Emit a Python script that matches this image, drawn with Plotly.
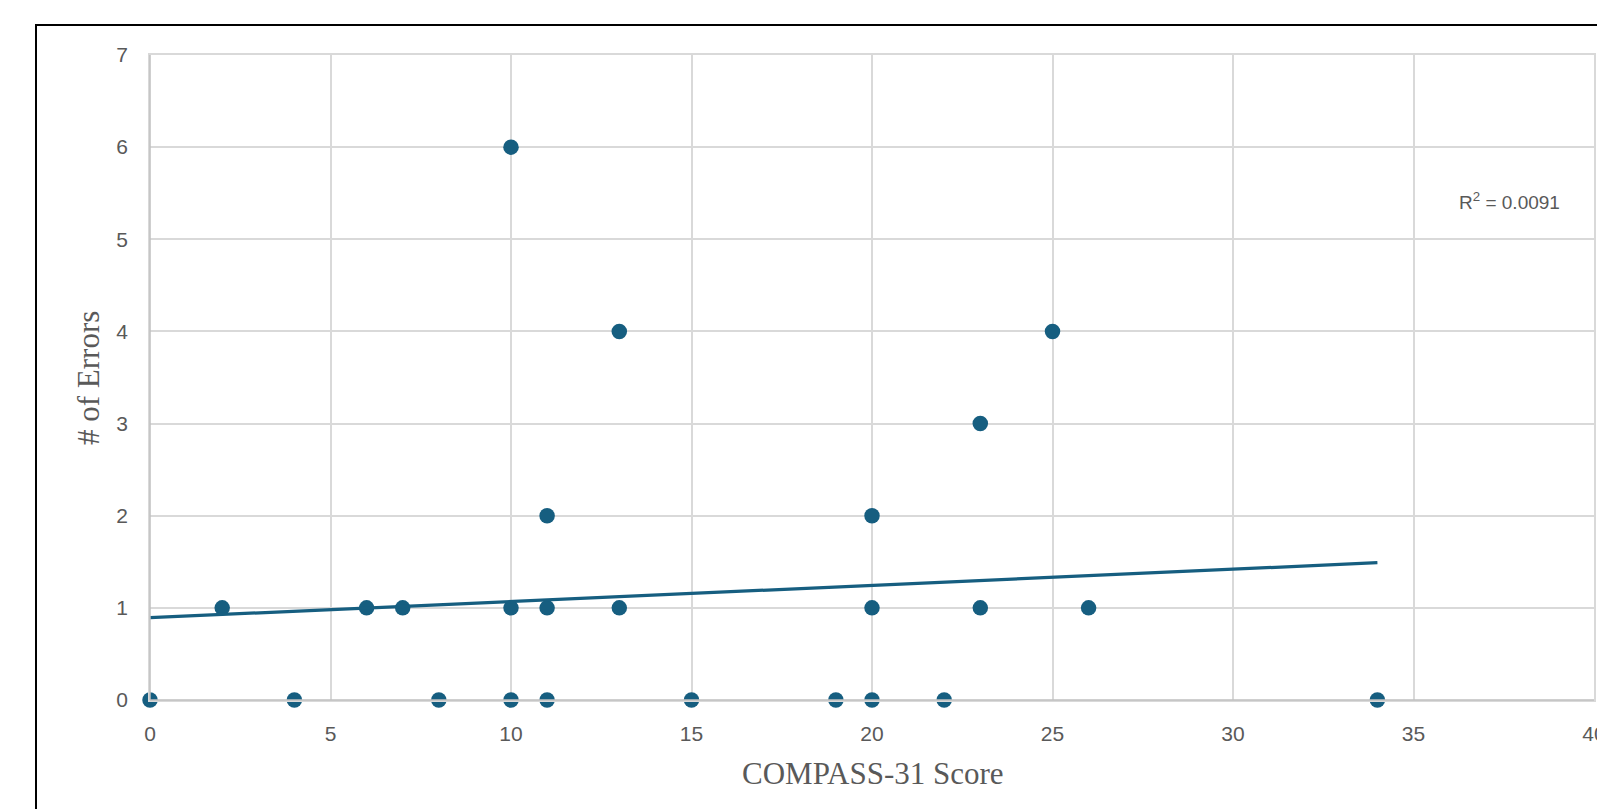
import plotly.graph_objects as go

# Data
compass_scores = [0, 2, 4, 6, 7, 8, 10, 10, 10, 11, 11, 11, 13, 13, 15, 19, 20, 20, 20, 22, 23, 23, 25, 26, 34]
num_errors = [0, 1, 0, 1, 1, 0, 6, 1, 0, 2, 1, 0, 4, 1, 0, 0, 2, 1, 0, 0, 3, 1, 4, 1, 0]
trend_x = [0, 34]
trend_y = [0.893, 1.49]
r2_label = "R<sup>2</sup> = 0.0091"
x_ticks = [0, 5, 10, 15, 20, 25, 30, 35, 40]
y_ticks = [0, 1, 2, 3, 4, 5, 6, 7]

OFF = 8  # default body margin of the page
W, H = 1605 - OFF, 809 - OFF
L, R, T, B = 150 - OFF, 1594 - OFF, 55 - OFF, 700 - OFF
blue = "#165e80"
gray_text = "#595959"
grid = "#d9d9d9"

fig = go.Figure()
fig.add_trace(go.Scatter(x=compass_scores, y=num_errors, mode="markers",
                         marker=dict(size=15.5, color=blue), showlegend=False, cliponaxis=False))
fig.add_trace(go.Scatter(x=trend_x, y=trend_y, mode="lines",
                         line=dict(color=blue, width=3.2), showlegend=False))

def px_x(p):
    return (p - OFF - L) / (R - L)

def px_y(p):
    return (B - (p - OFF)) / (B - T)

fig.update_layout(
    width=W, height=H,
    margin=dict(l=L, r=W - R, t=T, b=H - B, autoexpand=False),
    paper_bgcolor="white", plot_bgcolor="white",
    xaxis=dict(range=[0, 40], tickvals=x_ticks, showgrid=True, gridcolor=grid, gridwidth=1.5,
               showline=True, mirror=True, linecolor=grid, linewidth=1.5, automargin=False,
               ticklabeloverflow="allow",
               zeroline=False, ticks="outside", ticklen=14, tickcolor="rgba(0,0,0,0)",
               tickfont=dict(family="Liberation Sans, Arial", size=21, color=gray_text)),
    yaxis=dict(range=[0, 7], tickvals=y_ticks, showgrid=True, gridcolor=grid, gridwidth=1.5,
               showline=True, mirror=True, linecolor=grid, linewidth=1.5, automargin=False,
               ticklabeloverflow="allow",
               zeroline=False, ticks="outside", ticklen=16, tickcolor="rgba(0,0,0,0)",
               tickfont=dict(family="Liberation Sans, Arial", size=21, color=gray_text)),
    shapes=[
        dict(type="line", xref="paper", yref="paper", x0=0, x1=0, y0=0, y1=1,
             line=dict(color="#bfbfbf", width=1.5)),
        dict(type="line", xref="paper", yref="paper", x0=0, x1=1, y0=0, y1=0,
             line=dict(color="#bfbfbf", width=1.5)),
        dict(type="rect", xref="paper", yref="paper",
             x0=px_x(36), x1=px_x(1640), y0=px_y(850), y1=px_y(25),
             line=dict(color="black", width=2), fillcolor="rgba(0,0,0,0)", layer="below"),
    ],
    annotations=[
        dict(text="COMPASS-31 Score", xref="paper", yref="paper", x=px_x(873), y=px_y(773),
             showarrow=False, xanchor="center", yanchor="middle",
             font=dict(family="Liberation Serif, Times New Roman", size=31, color=gray_text)),
        dict(text="# of Errors", xref="paper", yref="paper", x=px_x(88), y=px_y(378),
             showarrow=False, xanchor="center", yanchor="middle", textangle=-90,
             font=dict(family="Liberation Serif, Times New Roman", size=31, color=gray_text)),
        dict(text=r2_label, xref="paper", yref="paper", x=px_x(1562), y=px_y(201),
             showarrow=False, xanchor="right", yanchor="middle",
             font=dict(family="Liberation Sans, Arial", size=19, color=gray_text)),
    ],
)

fig.write_html("out.html")
